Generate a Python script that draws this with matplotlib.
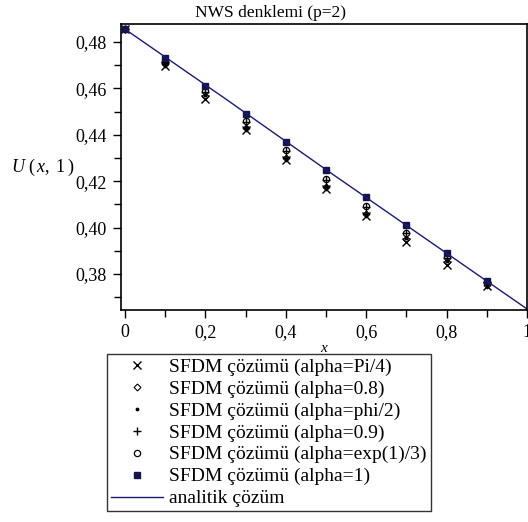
import numpy as np
import matplotlib.pyplot as plt
from matplotlib.ticker import MultipleLocator, FuncFormatter

plt.rcParams['font.family'] = ['Liberation Serif', 'DejaVu Serif']
plt.rcParams['mathtext.fontset'] = 'custom'
plt.rcParams['mathtext.rm'] = 'Liberation Serif'
plt.rcParams['mathtext.it'] = 'Liberation Serif:italic'

x = [0.0, 0.1, 0.2, 0.3, 0.4, 0.5, 0.6, 0.7, 0.8, 0.9]
u_pi4 = [0.4855, 0.4695, 0.4555, 0.4420, 0.4290, 0.4165, 0.4050, 0.3940, 0.3840, 0.3750]
u_08 = [0.4855, 0.4705, 0.4565, 0.4430, 0.4300, 0.4175, 0.4060, 0.3950, 0.3850, 0.3755]
u_phi2 = [0.4855, 0.4710, 0.4570, 0.4435, 0.4305, 0.4180, 0.4065, 0.3955, 0.3855, 0.3758]
u_09 = [0.4855, 0.4715, 0.4585, 0.4455, 0.4330, 0.4205, 0.4090, 0.3975, 0.3870, 0.3765]
u_exp3 = [0.4855, 0.4717, 0.4588, 0.4458, 0.4335, 0.4210, 0.4093, 0.3978, 0.3873, 0.3767]
u_1 = [0.4855, 0.4730, 0.4610, 0.4490, 0.4370, 0.4250, 0.4130, 0.4010, 0.3890, 0.3770]
x_exact = [0.0, 0.25, 0.5, 0.75, 1.0]
u_exact = [0.4855, 0.4555, 0.4250, 0.3950, 0.3650]

fig = plt.figure(figsize=(5.28, 5.22), dpi=100)
ax = fig.add_axes([0.229, 0.406, 0.769, 0.548])

ax.plot(x, u_pi4, 'x', color='black', ms=6, mew=1.0, label='SFDM çözümü (alpha=Pi/4)')
ax.plot(x, u_08, 'D', color='black', mfc='none', ms=3.5, mew=0.8, label='SFDM çözümü (alpha=0.8)')
ax.plot(x, u_phi2, '.', color='black', ms=3.5, label='SFDM çözümü (alpha=phi/2)')
ax.plot(x, u_09, '+', color='black', ms=6, mew=1.0, label='SFDM çözümü (alpha=0.9)')
ax.plot(x, u_exp3, 'o', color='black', mfc='none', ms=4.5, mew=0.9, label='SFDM çözümü (alpha=exp(1)/3)')
ax.plot(x, u_1, 's', color='#14144a', ms=4.5, label='SFDM çözümü (alpha=1)')
ax.plot(x_exact, u_exact, '-', color='#1a1a70', lw=1, label='analitik çözüm')

ax.set_xlim(-0.01, 1.0)
ax.set_ylim(0.3645, 0.4877)
ax.xaxis.set_major_locator(MultipleLocator(0.2))
ax.xaxis.set_minor_locator(MultipleLocator(0.1))
ax.yaxis.set_major_locator(MultipleLocator(0.02))
ax.yaxis.set_minor_locator(MultipleLocator(0.01))

ax.xaxis.set_major_formatter(FuncFormatter(lambda v, p: '0' if abs(v) < 1e-9 else ('1' if abs(v - 1) < 1e-9 else f'{v:.1f}'.replace('.', ','))))
ax.yaxis.set_major_formatter(FuncFormatter(lambda v, p: f'{v:.2f}'.replace('.', ',')))
ax.tick_params(which='major', direction='out', length=6, width=1, labelsize=13, pad=4)
ax.tick_params(which='minor', direction='out', length=5, width=1)
for s in ax.spines.values():
    s.set_linewidth(1.2)

fig.text(0.513, 0.975, 'NWS denklemi (p=2)', fontsize=12.5, ha='center', va='center')
ax.set_xlabel('x', fontstyle='italic', fontsize=11, labelpad=1)
ax.set_ylabel('$U\\ (\\,x,\\ \\mathrm{1}\\,)$', rotation=0, fontsize=13, labelpad=24, va='center')

leg = ax.legend(loc='upper left', bbox_to_anchor=(-0.034, -0.154), fontsize=14,
                frameon=True, fancybox=False, edgecolor='black', handlelength=2.7,
                handletextpad=0.3, borderpad=0.2, labelspacing=0.22, borderaxespad=0)
leg.get_frame().set_linewidth(1.0)

fig.savefig('out.png', dpi=100)
